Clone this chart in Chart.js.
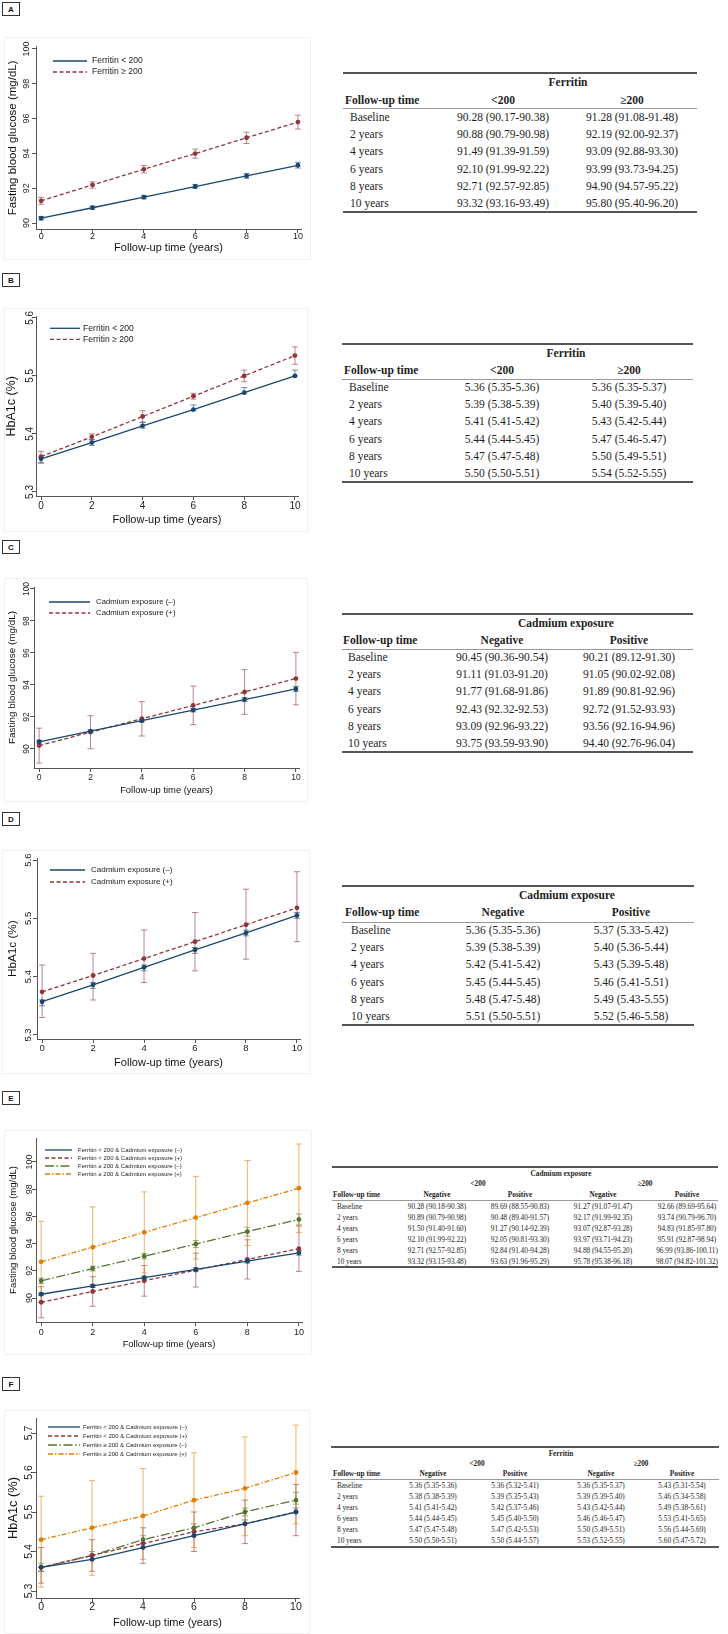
<!DOCTYPE html>
<html>
<head>
<meta charset="utf-8">
<script src="https://cdn.jsdelivr.net/npm/chart.js@4.4.0/dist/chart.umd.min.js"></script>
<style>
  html, body { margin: 0; padding: 0; background: #fff; }
  body { position: relative; width: 728px; height: 1634px; overflow: hidden; }
  .frame { position: absolute; box-sizing: border-box; border: 1px solid #f1f1f1; }
  canvas { position: absolute; }
  .tag { position: absolute; box-sizing: border-box; border: 1px solid #333; display: flex;
         align-items: center; justify-content: center; color: #111;
         font: bold 8px "Liberation Sans", Arial, sans-serif; }
  .t { position: absolute; white-space: nowrap; color: #1e1e1e; line-height: 1;
       font-family: "Liberation Serif", "Times New Roman", serif; transform: translateY(-50%); }
  .t.c { transform: translate(-50%, -50%); }
  .t.b { font-weight: bold; }
  .rule { position: absolute; }
</style>
</head>
<body>
<script>
// ---- data ----
const years = [0, 2, 4, 6, 8, 10];
const rowLabels = ["Baseline", "2 years", "4 years", "6 years", "8 years", "10 years"];
const xTicks = [0, 2, 4, 6, 8, 10];
const fbgTicks = [90, 92, 94, 96, 98, 100];
const hbaTicks = [5.3, 5.4, 5.5, 5.6];
const hbaTicksJoint = [5.3, 5.4, 5.5, 5.6, 5.7];

// A: fasting glucose by ferritin
const fbgFerLow = [90.28, 90.88, 91.49, 92.10, 92.71, 93.32];
const fbgFerLowLo = [90.17, 90.79, 91.39, 91.99, 92.57, 93.16];
const fbgFerLowHi = [90.38, 90.98, 91.59, 92.22, 92.85, 93.49];
const fbgFerHigh = [91.28, 92.19, 93.09, 93.99, 94.90, 95.80];
const fbgFerHighLo = [91.08, 92.00, 92.88, 93.73, 94.57, 95.40];
const fbgFerHighHi = [91.48, 92.37, 93.30, 94.25, 95.22, 96.20];

// B: HbA1c by ferritin (table values, and the unrounded means)
const hbaFerLow = [5.36, 5.39, 5.41, 5.44, 5.47, 5.50];
const hbaFerLowLo = [5.35, 5.38, 5.41, 5.44, 5.47, 5.50];
const hbaFerLowHi = [5.36, 5.39, 5.42, 5.45, 5.48, 5.51];
const hbaFerHigh = [5.36, 5.40, 5.43, 5.47, 5.50, 5.54];
const hbaFerHighLo = [5.35, 5.39, 5.42, 5.46, 5.49, 5.52];
const hbaFerHighHi = [5.37, 5.40, 5.44, 5.47, 5.51, 5.55];
const hbaFerLowPlot = [5.357, 5.385, 5.414, 5.442, 5.471, 5.500];
const hbaFerHighPlot = [5.361, 5.395, 5.430, 5.465, 5.500, 5.535];

// C: fasting glucose by cadmium
const fbgCdNeg = [90.45, 91.11, 91.77, 92.43, 93.09, 93.75];
const fbgCdNegLo = [90.36, 91.03, 91.68, 92.32, 92.96, 93.59];
const fbgCdNegHi = [90.54, 91.20, 91.86, 92.53, 93.22, 93.90];
const fbgCdPos = [90.21, 91.05, 91.89, 92.72, 93.56, 94.40];
const fbgCdPosLo = [89.12, 90.02, 90.81, 91.52, 92.16, 92.76];
const fbgCdPosHi = [91.30, 92.08, 92.96, 93.93, 94.96, 96.04];

// D: HbA1c by cadmium
const hbaCdNeg = [5.36, 5.39, 5.42, 5.45, 5.48, 5.51];
const hbaCdNegLo = [5.35, 5.38, 5.41, 5.44, 5.47, 5.50];
const hbaCdNegHi = [5.36, 5.39, 5.42, 5.45, 5.48, 5.51];
const hbaCdPos = [5.37, 5.40, 5.43, 5.46, 5.49, 5.52];
const hbaCdPosLo = [5.33, 5.36, 5.39, 5.41, 5.43, 5.46];
const hbaCdPosHi = [5.42, 5.44, 5.48, 5.51, 5.55, 5.58];
const hbaCdNegPlot = [5.357, 5.386, 5.416, 5.446, 5.475, 5.505];
const hbaCdPosPlot = [5.374, 5.402, 5.431, 5.460, 5.489, 5.518];

// E: fasting glucose, ferritin x cadmium
const fbgLowNeg = [90.28, 90.89, 91.50, 92.10, 92.71, 93.32];
const fbgLowNegLo = [90.18, 90.79, 91.40, 91.99, 92.57, 93.15];
const fbgLowNegHi = [90.38, 90.98, 91.60, 92.22, 92.85, 93.48];
const fbgLowPos = [89.69, 90.48, 91.27, 92.05, 92.84, 93.63];
const fbgLowPosLo = [88.55, 89.40, 90.14, 90.81, 91.40, 91.96];
const fbgLowPosHi = [90.83, 91.57, 92.39, 93.30, 94.28, 95.29];
const fbgHighNeg = [91.27, 92.17, 93.07, 93.97, 94.88, 95.78];
const fbgHighNegLo = [91.07, 91.99, 92.87, 93.71, 94.55, 95.38];
const fbgHighNegHi = [91.47, 92.35, 93.28, 94.23, 95.20, 96.18];
const fbgHighPos = [92.66, 93.74, 94.83, 95.91, 96.99, 98.07];
const fbgHighPosLo = [89.69, 90.79, 91.85, 92.87, 93.86, 94.82];
const fbgHighPosHi = [95.64, 96.70, 97.80, 98.94, 100.11, 101.32];

// F: HbA1c, ferritin x cadmium
const hbaLowNeg = [5.36, 5.38, 5.41, 5.44, 5.47, 5.50];
const hbaLowNegLo = [5.35, 5.38, 5.41, 5.44, 5.47, 5.50];
const hbaLowNegHi = [5.36, 5.39, 5.42, 5.45, 5.48, 5.51];
const hbaLowPos = [5.36, 5.39, 5.42, 5.45, 5.47, 5.50];
const hbaLowPosLo = [5.32, 5.35, 5.37, 5.40, 5.42, 5.44];
const hbaLowPosHi = [5.41, 5.43, 5.46, 5.50, 5.53, 5.57];
const hbaHighNeg = [5.36, 5.39, 5.43, 5.46, 5.50, 5.53];
const hbaHighNegLo = [5.35, 5.39, 5.42, 5.46, 5.49, 5.52];
const hbaHighNegHi = [5.37, 5.40, 5.44, 5.47, 5.51, 5.55];
const hbaHighPos = [5.43, 5.46, 5.49, 5.53, 5.56, 5.60];
const hbaHighPosLo = [5.31, 5.34, 5.38, 5.41, 5.44, 5.47];
const hbaHighPosHi = [5.54, 5.58, 5.61, 5.65, 5.69, 5.72];

// ---- styling ----
const sans = '"Liberation Sans", Arial, sans-serif';
const navy = "#1a476f", maroon = "#90353b", green = "#55752f", orange = "#e37e00";
const solid = [], dashed = [4, 2.5], longDashDot = [9, 2.5, 1.5, 2.5], dashDot = [5, 2, 1.5, 2];
const axisCol = "#555";

function hexA(hex, a) {
  const n = parseInt(hex.slice(1), 16);
  return `rgba(${n >> 16},${(n >> 8) & 255},${n & 255},${a})`;
}

function series(label, mean, lo, hi, color, dash) {
  return {
    label, lo, hi, errColor: hexA(color, 0.6),
    data: years.map((t, i) => ({ x: t, y: mean[i] })),
    borderColor: color, backgroundColor: color, borderWidth: 1.3, borderDash: dash,
    pointRadius: 2.4, pointBackgroundColor: color, pointBorderWidth: 0, tension: 0
  };
}

const mctx = document.createElement("canvas").getContext("2d");
function textW(s, size) { mctx.font = `${size}px ${sans}`; return mctx.measureText(s).width; }

// error bars with caps, drawn through the chart's scales
const errorBars = {
  id: "errorBars",
  beforeDatasetsDraw(chart) {
    const { ctx, scales: { x, y } } = chart;
    ctx.save();
    ctx.lineWidth = 1;
    chart.data.datasets.forEach(ds => {
      ctx.strokeStyle = ds.errColor;
      ds.data.forEach((p, i) => {
        const px = x.getPixelForValue(p.x);
        const y0 = y.getPixelForValue(ds.lo[i]), y1 = y.getPixelForValue(ds.hi[i]);
        ctx.beginPath();
        ctx.moveTo(px, y0); ctx.lineTo(px, y1);
        ctx.moveTo(px - 3, y0); ctx.lineTo(px + 3, y0);
        ctx.moveTo(px - 3, y1); ctx.lineTo(px + 3, y1);
        ctx.stroke();
      });
    });
    ctx.restore();
  }
};

// legend inside the plot, Stata style
function insideLegend(lg, fx, fy) {
  return {
    id: "insideLegend",
    afterDraw(chart) {
      const ctx = chart.ctx;
      ctx.save();
      chart.data.datasets.forEach((ds, i) => {
        const yy = lg.ys[i] - fy;
        ctx.strokeStyle = ds.borderColor;
        ctx.lineWidth = ds.borderWidth;
        ctx.setLineDash(ds.borderDash);
        ctx.beginPath(); ctx.moveTo(lg.x0 - fx, yy); ctx.lineTo(lg.x1 - fx, yy); ctx.stroke();
        ctx.setLineDash([]);
        ctx.fillStyle = "#222";
        ctx.font = `${lg.size}px ${sans}`;
        ctx.textBaseline = "middle";
        ctx.fillText(ds.label, lg.tx - fx, yy);
      });
      ctx.restore();
    }
  };
}

function drawPanel(p) {
  const [fx, fy, fw, fh] = p.frame;
  const fr = document.createElement("div");
  fr.className = "frame";
  Object.assign(fr.style, { left: fx + "px", top: fy + "px", width: fw + "px", height: fh + "px" });
  document.body.appendChild(fr);
  const cv = document.createElement("canvas");
  cv.width = fw; cv.height = fh;
  Object.assign(cv.style, { left: fx + "px", top: fy + "px", width: fw + "px", height: fh + "px" });
  document.body.appendChild(cv);

  const cl = p.plot[0] - fx, ct = p.plot[1] - fy, cr = p.plot[2] - fx, cb = p.plot[3] - fy;
  const tickLen = 4;
  const widest = Math.max(...p.yTicks.map(v => textW(String(v), p.tick)));
  const yPad = cl - tickLen - widest / 2 - (p.yTickX - fx);
  const xPad = (p.xTickY - fy) - cb - tickLen - 0.6 * p.tick;
  const ytPad = (p.yTitleX - fx) - 0.6 * p.yTitleSize;
  const xtPad = fh - (p.xTitleY - fy) - 0.6 * p.xTitleSize;

  new Chart(cv, {
    type: "line",
    data: { datasets: p.datasets },
    options: {
      responsive: false, animation: false, events: [],
      layout: { padding: { left: 0, top: ct, right: fw - cr, bottom: 0 } },
      plugins: { legend: { display: false }, tooltip: { enabled: false } },
      scales: {
        x: {
          type: "linear", min: -0.2, max: 10.12,
          afterBuildTicks: s => { s.ticks = xTicks.map(v => ({ value: v })); },
          afterFit: s => { s.height = fh - cb; s.paddingLeft = 0; s.paddingRight = 0; },
          grid: { display: true, drawOnChartArea: false, drawTicks: true, tickLength: tickLen, color: axisCol, lineWidth: 1 },
          border: { display: true, color: axisCol, width: 1 },
          ticks: { font: { family: sans, size: p.tick }, color: "#222", padding: xPad, maxRotation: 0, autoSkip: false, callback: v => String(v) },
          title: { display: true, text: "Follow-up time (years)", color: "#111",
                   font: { family: sans, size: p.xTitleSize }, padding: { top: 0, bottom: xtPad } }
        },
        y: {
          type: "linear", min: p.yMin, max: p.yMax,
          afterBuildTicks: s => { s.ticks = p.yTicks.map(v => ({ value: v })); },
          afterFit: s => { s.width = cl; s.paddingTop = 0; s.paddingBottom = 0; },
          grid: { display: true, drawOnChartArea: false, drawTicks: true, tickLength: tickLen, color: axisCol, lineWidth: 1 },
          border: { display: true, color: axisCol, width: 1 },
          ticks: { font: { family: sans, size: p.tick }, color: "#222", padding: yPad, minRotation: 90, maxRotation: 90,
                   crossAlign: "center", autoSkip: false, callback: v => String(v) },
          title: { display: true, text: p.yTitle, color: "#111",
                   font: { family: sans, size: p.yTitleSize }, padding: { top: ytPad, bottom: 0 } }
        }
      }
    },
    plugins: [errorBars, insideLegend(p.legend, fx, fy)]
  });
}

// ---- tables ----
function addText(x, y, s, size, cls) {
  const d = document.createElement("div");
  d.className = "t " + (cls || "");
  d.textContent = s;
  Object.assign(d.style, { left: x + "px", top: y + "px", fontSize: size + "px" });
  document.body.appendChild(d);
}
function addRule(x0, x1, y, h, color) {
  const d = document.createElement("div");
  d.className = "rule";
  Object.assign(d.style, { left: x0 + "px", top: (y - h / 2) + "px", width: (x1 - x0) + "px", height: h + "px", background: color });
  document.body.appendChild(d);
}
const ci = (m, lo, hi, i) => `${m[i].toFixed(2)} (${lo[i].toFixed(2)}-${hi[i].toFixed(2)})`;

function drawTable(t) {
  addRule(t.left, t.right, t.top, 1.5, "#555");
  addText(t.headX, t.head, t.title, t.size, "c b");
  if (t.groups) t.groups.forEach(g => addText(g.x, t.group, g.label, t.size, "c b"));
  addText(t.headLabelX, t.sub, "Follow-up time", t.size, "b");
  t.colHeads.forEach((h, j) => addText(t.cols[j], t.sub, h, t.size, "c b"));
  addRule(t.left, t.right, t.mid, 1, "#999");
  rowLabels.forEach((r, i) => {
    const y = t.row0 + i * t.dy;
    addText(t.labelX, y, r, t.size);
    t.values.forEach((v, j) => addText(t.cols[j], y, ci(v[0], v[1], v[2], i), t.size, "c"));
  });
  addRule(t.left, t.right, t.bottom, 1.5, "#555");
}

function tag(letter, x, y) {
  const d = document.createElement("div");
  d.className = "tag";
  d.textContent = letter;
  Object.assign(d.style, { left: x + "px", top: y + "px", width: "18px", height: "14px" });
  document.body.appendChild(d);
}

// ---- panels ----
const ferLab = ["Ferritin < 200", "Ferritin \u2265 200"];
const cdLab = ["Cadmium exposure (\u2013)", "Cadmium exposure (+)"];
const jointLab = ["Ferritin < 200 & Cadmium exposure (\u2013)", "Ferritin < 200 & Cadmium exposure (+)",
                  "Ferritin \u2265 200 & Cadmium exposure (\u2013)", "Ferritin \u2265 200 & Cadmium exposure (+)"];

[["A", 2], ["B", 273], ["C", 540], ["D", 812], ["E", 1091], ["F", 1377]].forEach(([l, y]) => tag(l, 2, y));

drawPanel({
  frame: [4, 37, 307, 223], plot: [36, 46.7, 301, 229], yMin: 89.66, yMax: 100.13, yTicks: fbgTicks,
  yTitle: "Fasting blood glucose (mg/dL)", yTitleSize: 11.5, yTitleX: 13, xTitleSize: 11, xTitleY: 248,
  tick: 9, xTickY: 237, yTickX: 27,
  legend: { x0: 53, x1: 87, tx: 92, ys: [61, 72], size: 8.6 },
  datasets: [series(ferLab[0], fbgFerLow, fbgFerLowLo, fbgFerLowHi, navy, solid),
             series(ferLab[1], fbgFerHigh, fbgFerHighLo, fbgFerHighHi, maroon, dashed)]
});
drawPanel({
  frame: [4, 308, 304, 224], plot: [36, 316.7, 298, 496], yMin: 5.293, yMax: 5.602, yTicks: hbaTicks,
  yTitle: "HbA1c (%)", yTitleSize: 12.5, yTitleX: 12, xTitleSize: 11, xTitleY: 520,
  tick: 10, xTickY: 506, yTickX: 30,
  legend: { x0: 50, x1: 80, tx: 83, ys: [328.3, 339.3], size: 8.6 },
  datasets: [series(ferLab[0], hbaFerLowPlot, hbaFerLowLo, hbaFerLowHi, navy, solid),
             series(ferLab[1], hbaFerHighPlot, hbaFerHighLo, hbaFerHighHi, maroon, dashed)]
});
drawPanel({
  frame: [4, 578, 304, 224], plot: [34, 587, 299, 768], yMin: 88.81, yMax: 100.125, yTicks: fbgTicks,
  yTitle: "Fasting blood glucose (mg/dL)", yTitleSize: 9.9, yTitleX: 12, xTitleSize: 9.4, xTitleY: 790,
  tick: 8.5, xTickY: 778, yTickX: 27,
  legend: { x0: 49, x1: 90, tx: 96, ys: [602, 613], size: 7.8 },
  datasets: [series(cdLab[0], fbgCdNeg, fbgCdNegLo, fbgCdNegHi, navy, solid),
             series(cdLab[1], fbgCdPos, fbgCdPosLo, fbgCdPosHi, maroon, dashed)]
});
drawPanel({
  frame: [2, 850, 308, 224], plot: [37, 858.3, 300, 1039], yMin: 5.2931, yMax: 5.603, yTicks: hbaTicks,
  yTitle: "HbA1c (%)", yTitleSize: 11.7, yTitleX: 13, xTitleSize: 11, xTitleY: 1063,
  tick: 9.5, xTickY: 1048, yTickX: 28,
  legend: { x0: 50, x1: 85, tx: 91, ys: [870, 882], size: 8 },
  datasets: [series(cdLab[0], hbaCdNegPlot, hbaCdNegLo, hbaCdNegHi, navy, solid),
             series(cdLab[1], hbaCdPosPlot, hbaCdPosLo, hbaCdPosHi, maroon, dashed)]
});
drawPanel({
  frame: [4, 1130, 308, 225], plot: [36, 1138, 302, 1322], yMin: 88.24, yMax: 101.76, yTicks: fbgTicks,
  yTitle: "Fasting blood glucose (mg/dL)", yTitleSize: 9.5, yTitleX: 13, xTitleSize: 9.4, xTitleY: 1344,
  tick: 9, xTickY: 1333, yTickX: 30,
  legend: { x0: 45, x1: 72, tx: 78, ys: [1150, 1158, 1166, 1174], size: 6 },
  datasets: [series(jointLab[0], fbgLowNeg, fbgLowNegLo, fbgLowNegHi, navy, solid),
             series(jointLab[1], fbgLowPos, fbgLowPosLo, fbgLowPosHi, maroon, dashed),
             series(jointLab[2], fbgHighNeg, fbgHighNegLo, fbgHighNegHi, green, longDashDot),
             series(jointLab[3], fbgHighPos, fbgHighPosLo, fbgHighPosHi, orange, dashDot)]
});
drawPanel({
  frame: [4, 1410, 306, 224], plot: [36, 1418, 299, 1598], yMin: 5.2823, yMax: 5.738, yTicks: hbaTicksJoint,
  yTitle: "HbA1c (%)", yTitleSize: 12.8, yTitleX: 13, xTitleSize: 11, xTitleY: 1623,
  tick: 10.5, xTickY: 1607, yTickX: 29,
  legend: { x0: 48, x1: 80, tx: 83, ys: [1427, 1436, 1445, 1454], size: 6 },
  datasets: [series(jointLab[0], hbaLowNeg, hbaLowNegLo, hbaLowNegHi, navy, solid),
             series(jointLab[1], hbaLowPos, hbaLowPosLo, hbaLowPosHi, maroon, dashed),
             series(jointLab[2], hbaHighNeg, hbaHighNegLo, hbaHighNegHi, green, longDashDot),
             series(jointLab[3], hbaHighPos, hbaHighPosLo, hbaHighPosHi, orange, dashDot)]
});

drawTable({ left: 343, right: 697, top: 73, head: 83, sub: 101, mid: 108, row0: 118, dy: 17.2, bottom: 212,
  labelX: 350, headLabelX: 345, headX: 568, cols: [503, 632], size: 11.5, title: "Ferritin",
  colHeads: ["<200", "\u2265200"],
  values: [[fbgFerLow, fbgFerLowLo, fbgFerLowHi], [fbgFerHigh, fbgFerHighLo, fbgFerHighHi]] });
drawTable({ left: 342, right: 693, top: 344, head: 354, sub: 371, mid: 379, row0: 388, dy: 17.2, bottom: 482,
  labelX: 349, headLabelX: 344, headX: 566, cols: [502, 629], size: 11.5, title: "Ferritin",
  colHeads: ["<200", "\u2265200"],
  values: [[hbaFerLow, hbaFerLowLo, hbaFerLowHi], [hbaFerHigh, hbaFerHighLo, hbaFerHighHi]] });
drawTable({ left: 342, right: 693, top: 614, head: 624, sub: 641, mid: 649, row0: 658, dy: 17.2, bottom: 752,
  labelX: 348, headLabelX: 343, headX: 566, cols: [502, 629], size: 11.5, title: "Cadmium exposure",
  colHeads: ["Negative", "Positive"],
  values: [[fbgCdNeg, fbgCdNegLo, fbgCdNegHi], [fbgCdPos, fbgCdPosLo, fbgCdPosHi]] });
drawTable({ left: 342, right: 694, top: 886, head: 896, sub: 913, mid: 922, row0: 931, dy: 17.2, bottom: 1025,
  labelX: 351, headLabelX: 345, headX: 567, cols: [503, 631], size: 11.5, title: "Cadmium exposure",
  colHeads: ["Negative", "Positive"],
  values: [[hbaCdNeg, hbaCdNegLo, hbaCdNegHi], [hbaCdPos, hbaCdPosLo, hbaCdPosHi]] });
drawTable({ left: 332, right: 718, top: 1167, head: 1174, group: 1184, sub: 1195, mid: 1200, row0: 1207, dy: 11, bottom: 1267,
  labelX: 337, headLabelX: 333, headX: 561, cols: [437, 520, 603, 687], size: 7.3, title: "Cadmium exposure",
  groups: [{ x: 478, label: "<200" }, { x: 645, label: "\u2265200" }],
  colHeads: ["Negative", "Positive", "Negative", "Positive"],
  values: [[fbgLowNeg, fbgLowNegLo, fbgLowNegHi], [fbgLowPos, fbgLowPosLo, fbgLowPosHi],
           [fbgHighNeg, fbgHighNegLo, fbgHighNegHi], [fbgHighPos, fbgHighPosLo, fbgHighPosHi]] });
drawTable({ left: 331, right: 719, top: 1447, head: 1454, group: 1464, sub: 1474, mid: 1479, row0: 1486, dy: 11, bottom: 1547,
  labelX: 337, headLabelX: 333, headX: 561, cols: [433, 515, 601, 682], size: 7.3, title: "Ferritin",
  groups: [{ x: 477, label: "<200" }, { x: 641, label: "\u2265200" }],
  colHeads: ["Negative", "Positive", "Negative", "Positive"],
  values: [[hbaLowNeg, hbaLowNegLo, hbaLowNegHi], [hbaLowPos, hbaLowPosLo, hbaLowPosHi],
           [hbaHighNeg, hbaHighNegLo, hbaHighNegHi], [hbaHighPos, hbaHighPosLo, hbaHighPosHi]] });
</script>
</body>
</html>
